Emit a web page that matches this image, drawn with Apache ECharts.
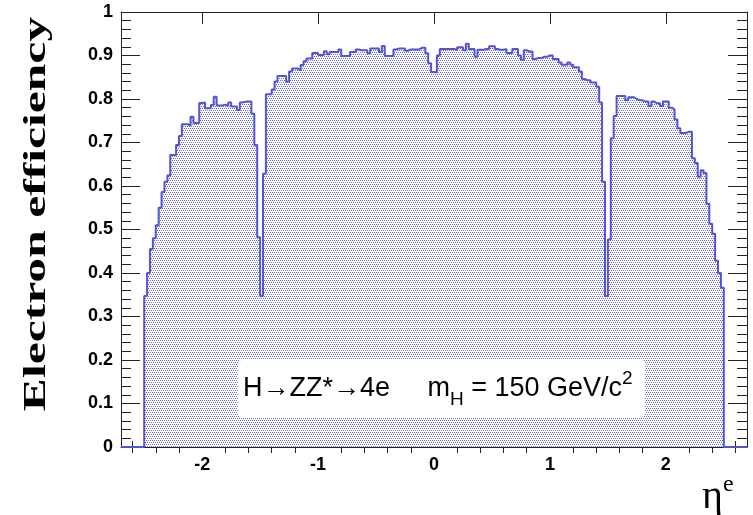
<!DOCTYPE html>
<html><head><meta charset="utf-8">
<script src="https://cdn.jsdelivr.net/npm/echarts@6/dist/echarts.min.js"></script>
<style>html,body{margin:0;padding:0;background:#fff}#c{width:753px;height:515px}</style>
</head><body><div id="c"></div>
<script>
// Histogram bins: 200 bins of width 0.025 from eta = -2.5 to 2.5
const binStart = -2.5;
const binWidth = 0.025;
const effNeg = [
0.347,0.40,0.455,0.48,0.51,0.55,0.586,0.61,0.624,0.671,
0.671,0.694,0.715,0.742,0.742,0.739,0.759,0.745,0.745,0.791,
0.792,0.779,0.779,0.786,0.805,0.785,0.785,0.787,0.784,0.792,
0.783,0.783,0.775,0.792,0.794,0.794,0.794,0.766,0.694,0.482,
0.347,0.628,0.811,0.811,0.822,0.84,0.853,0.853,0.853,0.84,
0.863,0.87,0.87,0.866,0.878,0.887,0.893,0.893,0.906,0.906,
0.901,0.901,0.91,0.903,0.908,0.908,0.908,0.914,0.899,0.899,
0.899,0.908,0.908,0.914,0.912,0.912,0.912,0.905,0.916,0.916,
0.916,0.908,0.922,0.899,0.899,0.899,0.914,0.916,0.916,0.916,
0.911,0.914,0.914,0.914,0.914,0.918,0.918,0.905,0.882,0.862];
const effPos = [
0.861,0.90,0.915,0.915,0.915,0.915,0.915,0.913,0.919,0.919,
0.912,0.927,0.915,0.915,0.897,0.913,0.913,0.915,0.915,0.921,
0.921,0.915,0.913,0.913,0.915,0.906,0.906,0.915,0.915,0.90,
0.89,0.912,0.909,0.909,0.892,0.894,0.894,0.897,0.897,0.90,
0.90,0.892,0.892,0.884,0.879,0.879,0.884,0.879,0.873,0.873,
0.863,0.846,0.843,0.843,0.838,0.838,0.828,0.792,0.61,0.347,
0.477,0.71,0.761,0.807,0.807,0.807,0.797,0.804,0.804,0.80,
0.797,0.797,0.794,0.794,0.784,0.794,0.79,0.79,0.784,0.794,
0.794,0.78,0.776,0.753,0.733,0.722,0.722,0.725,0.725,0.664,
0.653,0.621,0.636,0.63,0.559,0.513,0.49,0.428,0.40,0.366];
const xMajorTicks = [-2,-1,0,1,2];
const xMinorTicks = [-2.6,-2.4,-2.2,-1.8,-1.6,-1.4,-1.2,-0.8,-0.6,-0.4,-0.2,0.2,0.4,0.6,0.8,1.2,1.4,1.6,1.8,2.2,2.4,2.6];
const xRange = [-2.7, 2.7];

const eff = effNeg.concat(effPos);
const data = [[xRange[0], 0]];
eff.forEach((v, i) => data.push([binStart + i * binWidth, v]));
data.push([binStart + eff.length * binWidth, 0]);
data.push([xRange[1], 0]);

const lineColor = '#5353d9';
const pat = document.createElement('canvas');
pat.width = 4; pat.height = 4;
const pc = pat.getContext('2d');
pc.fillStyle = '#ffffff'; pc.fillRect(0,0,4,4);
pc.fillStyle = '#6a6ae0';
[[0,0],[2,0],[1,2],[3,2]].forEach(p => pc.fillRect(p[0], p[1], 1, 1));

const frame = {show:true, onZero:false, lineStyle:{color:'#222', width:1}};
const tickStyle = {color:'#222', width:1};
function xAx(pos, major, labels) {
  return {
    type:'value', min:xRange[0], max:xRange[1], position:pos,
    axisLine: major ? frame : {show:false},
    axisTick:{show:true, inside:true, length: major ? 12 : 6, customValues: major ? xMajorTicks : xMinorTicks, lineStyle:tickStyle},
    axisLabel: labels ? {show:true, customValues:xMajorTicks, margin:9, fontFamily:'Liberation Sans', fontWeight:'bold', fontSize:18, color:'#000', formatter: v => String(v)} : {show:false},
    splitLine:{show:false}
  };
}
function yAx(pos, labels) {
  return {
    type:'value', min:0, max:1, interval:0.1, position:pos,
    axisLine: frame,
    axisTick:{show:true, inside:true, length:19, lineStyle:tickStyle},
    minorTick:{show:true, splitNumber:5, length:10, lineStyle:tickStyle},
    axisLabel: labels ? {show:true, margin:8, fontFamily:'Liberation Sans', fontWeight:'bold', fontSize:18, color:'#000',
      formatter: v => (v === 0 ? '0' : (Math.abs(v-1) < 1e-9 ? '1' : v.toFixed(1)))} : {show:false},
    splitLine:{show:false}
  };
}

const chart = echarts.init(document.getElementById('c'), null, {renderer:'canvas'});
chart.setOption({
  animation:false,
  backgroundColor:'#fff',
  grid:{left:121, right:6, top:12, bottom:68, containLabel:false},
  xAxis:[xAx('bottom', true, true), xAx('bottom', false, false), xAx('top', true, false), xAx('top', false, false)],
  yAxis:[yAx('left', true), yAx('right', false)],
  series:[{
    type:'line', xAxisIndex:0, yAxisIndex:0, step:'end', data:data,
    showSymbol:false, symbol:'none',
    lineStyle:{color:lineColor, width:2},
    areaStyle:{color:{image:pat, repeat:'repeat'}, opacity:1},
    z:2
  }],
  graphic:[
    {type:'rect', shape:{x:238, y:360, width:407, height:57, r:4}, style:{fill:'#fff'}, z:10},
    {type:'text', x:243, y:389, z:11, style:{
      text:'{a|H→ZZ*→4e     m}{s|H}{a| = 150 GeV/c}{p|2}',
      verticalAlign:'middle', align:'left',
      rich:{
        a:{fontFamily:'Liberation Sans', fontSize:27, lineHeight:40, verticalAlign:'middle', fill:'#000'},
        s:{fontFamily:'Liberation Sans', fontSize:19, lineHeight:18, verticalAlign:'bottom', fill:'#000'},
        p:{fontFamily:'Liberation Sans', fontSize:19, lineHeight:18, verticalAlign:'top', fill:'#000'}
      }}},
    {type:'text', x:37, y:214, rotation:Math.PI/2, scaleX:1.55, z:11, style:{
      text:'Electron efficiency', font:'bold 32px "Liberation Serif"', fill:'#000', align:'center', verticalAlign:'middle'}},
    {type:'text', x:702, y:497, z:11, style:{text:'η', font:'40px "Liberation Serif"', fill:'#000', align:'left', verticalAlign:'middle'}},
    {type:'text', x:723, y:485, z:11, style:{text:'e', font:'24px "Liberation Serif"', fill:'#000', align:'left', verticalAlign:'middle'}}
  ]
});
</script></body></html>
